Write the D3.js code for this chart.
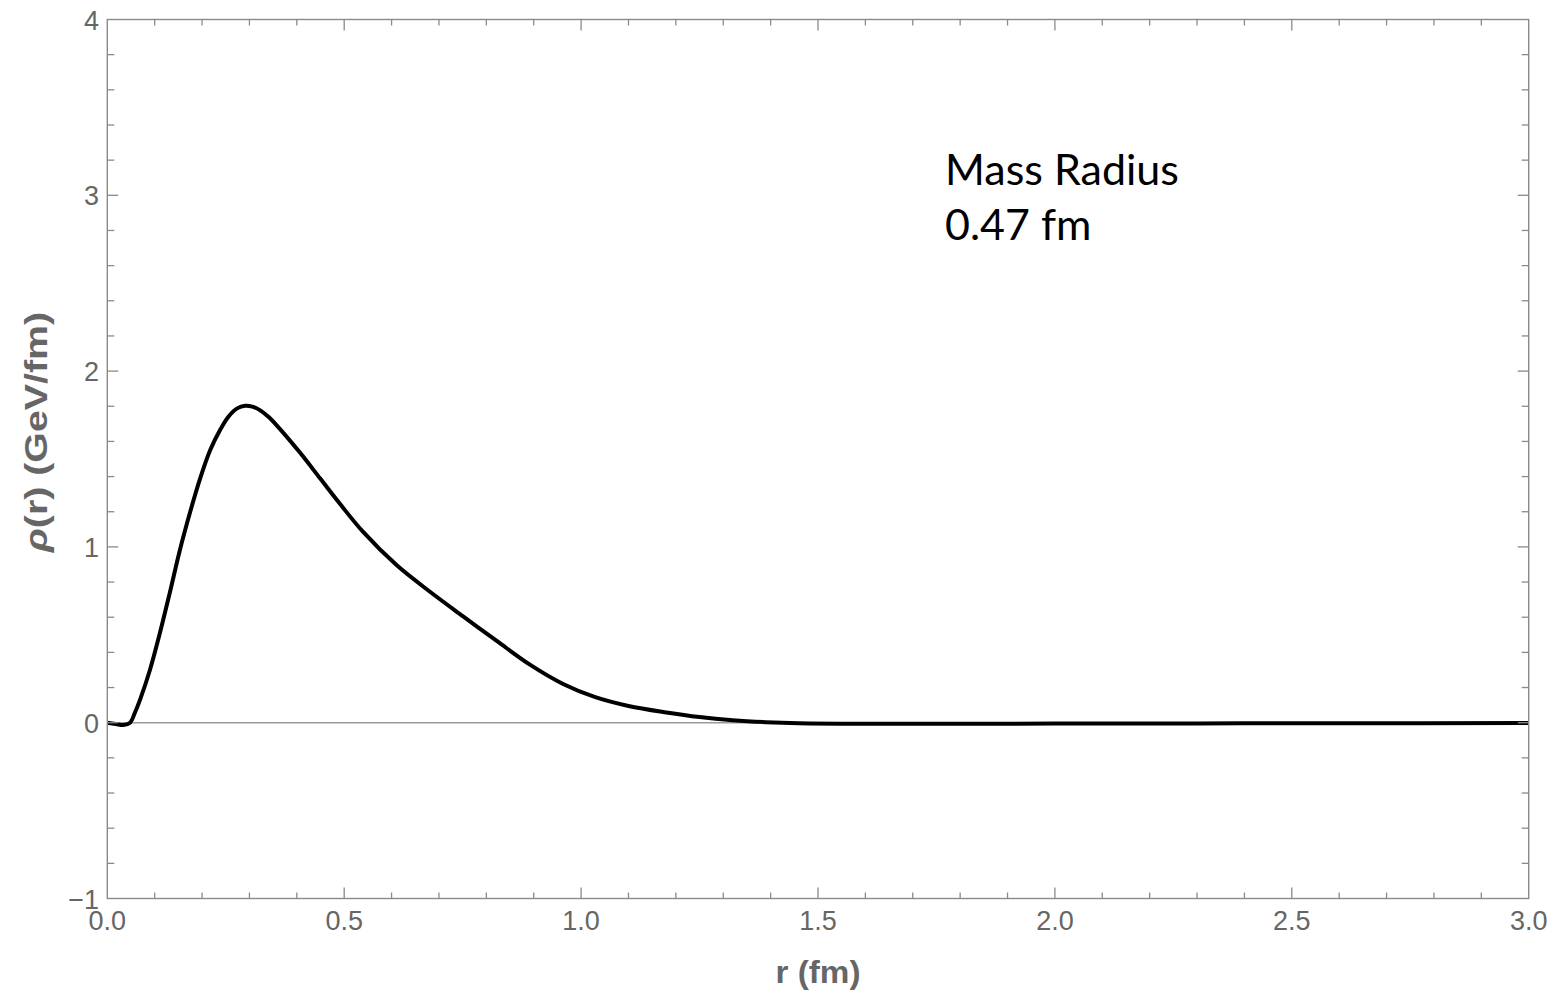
<!DOCTYPE html>
<meta charset="utf-8">
<style>
  body { margin: 0; background: #fff; }
  svg { display: block; }
  .tick-label { font-family: "Liberation Sans", Arial, sans-serif; font-size: 27px; fill: #666; }
  .axis-title { font-family: "Liberation Sans", Arial, sans-serif; font-size: 31px; font-weight: bold; fill: #666; }
  .note { font-family: Lato, "Open Sans", sans-serif; font-size: 43px; fill: #000; }
</style>
<svg id="chart" width="1555" height="994"></svg>
<script src="https://cdn.jsdelivr.net/npm/d3@7"></script>
<script>
// radius in fm
var rValues = [0.000, 0.018, 0.034, 0.048, 0.058, 0.069, 0.090, 0.111, 0.132, 0.153,
               0.175, 0.196, 0.217, 0.238, 0.256, 0.274, 0.291, 0.306, 0.322, 0.340,
               0.358, 0.407, 0.449, 0.491, 0.540, 0.611, 0.681, 0.751, 0.822, 0.892,
               0.962, 1.030, 1.100, 1.180, 1.250, 1.320, 1.390, 1.460, 1.600, 1.800,
               2.000, 2.300, 2.600, 3.000];
// rho(r) in GeV/fm
var rhoValues = [0.000, -0.007, -0.013, 0.000, 0.055, 0.130, 0.300, 0.510, 0.740, 0.980,
                 1.200, 1.390, 1.550, 1.665, 1.742, 1.788, 1.803, 1.798, 1.778, 1.740,
                 1.690, 1.535, 1.390, 1.245, 1.085, 0.895, 0.745, 0.605, 0.465, 0.330,
                 0.220, 0.145, 0.095, 0.058, 0.032, 0.014, 0.003, -0.003, -0.006, -0.006,
                 -0.005, -0.004, -0.003, -0.002];

var xMajor = [0, 0.5, 1, 1.5, 2, 2.5, 3];
var xTickLabels = ["0.0", "0.5", "1.0", "1.5", "2.0", "2.5", "3.0"];
var yMajor = [-1, 0, 1, 2, 3, 4];
var yTickLabels = ["\u22121", "0", "1", "2", "3", "4"];
var noteLines = ["Mass Radius", "0.47 fm"];

var plotLeft = 107.3, plotRight = 1528.7, plotTop = 19.5, plotBottom = 898.5;
var svg = d3.select("#chart");

var x = d3.scaleLinear().domain([0, 3]).range([plotLeft, plotRight]);
var y = d3.scaleLinear().domain([-1, 4]).range([plotBottom, plotTop]);

var frameColor = "#8a8a8a";

var xMinor = d3.range(0, 31).map(d => d / 10).filter(d => Math.abs(d * 2 - Math.round(d * 2)) > 1e-6);
var yMinor = d3.range(-5, 21).map(d => d / 5).filter(d => Math.abs(d - Math.round(d)) > 1e-6);

// zero line
svg.append("line")
    .attr("x1", x(0)).attr("x2", x(3))
    .attr("y1", y(0)).attr("y2", y(0))
    .attr("stroke", "#9a9a9a").attr("stroke-width", 1.5);

// curve
var pts = rValues.map((r, i) => [r, rhoValues[i]]);
var line = d3.line().x(d => x(d[0])).y(d => y(d[1])).curve(d3.curveCatmullRom.alpha(0.5));
svg.append("path")
    .datum(pts)
    .attr("d", line)
    .attr("fill", "none")
    .attr("stroke", "#000")
    .attr("stroke-width", 4)
    .attr("stroke-linejoin", "round");

// frame
svg.append("rect")
    .attr("x", plotLeft).attr("y", plotTop)
    .attr("width", plotRight - plotLeft).attr("height", plotBottom - plotTop)
    .attr("fill", "none").attr("stroke", frameColor).attr("stroke-width", 1.4);

// ticks on four sides
function xticks(vals, len) {
    var g = svg.append("g").attr("stroke", frameColor).attr("stroke-width", 1.3);
    vals.forEach(v => {
        g.append("line").attr("x1", x(v)).attr("x2", x(v)).attr("y1", plotBottom).attr("y2", plotBottom - len);
        g.append("line").attr("x1", x(v)).attr("x2", x(v)).attr("y1", plotTop).attr("y2", plotTop + len);
    });
}
function yticks(vals, len) {
    var g = svg.append("g").attr("stroke", frameColor).attr("stroke-width", 1.3);
    vals.forEach(v => {
        g.append("line").attr("y1", y(v)).attr("y2", y(v)).attr("x1", plotLeft).attr("x2", plotLeft + len);
        g.append("line").attr("y1", y(v)).attr("y2", y(v)).attr("x1", plotRight).attr("x2", plotRight - len);
    });
}
xticks(xMajor.slice(1, -1), 11);
xticks(xMinor, 6);
yticks(yMajor.slice(1, -1), 11);
yticks(yMinor, 7);

// tick labels
svg.selectAll(".xl").data(xMajor).enter().append("text")
    .attr("class", "tick-label xl")
    .attr("x", d => x(d)).attr("y", 930)
    .attr("text-anchor", "middle")
    .text((d, i) => xTickLabels[i]);

svg.selectAll(".yl").data(yMajor).enter().append("text")
    .attr("class", "tick-label yl")
    .attr("x", 99).attr("y", d => y(d) + 10)
    .attr("text-anchor", "end")
    .text((d, i) => yTickLabels[i]);

// axis titles
svg.append("text").attr("class", "axis-title")
    .attr("x", (plotLeft + plotRight) / 2).attr("y", 983)
    .attr("text-anchor", "middle")
    .attr("textLength", 85).attr("lengthAdjust", "spacingAndGlyphs")
    .text("r (fm)");

var yt = svg.append("text").attr("class", "axis-title")
    .attr("transform", "translate(47,432) rotate(-90)")
    .attr("text-anchor", "middle")
    .attr("textLength", 240).attr("lengthAdjust", "spacingAndGlyphs");
yt.append("tspan").attr("font-style", "italic").text("\u03c1");
yt.append("tspan").text("(r) (GeV/fm)");

// annotation
svg.selectAll(".note").data(noteLines).enter().append("text")
    .attr("class", "note")
    .attr("x", 945).attr("y", (d, i) => 185 + i * 55)
    .text(d => d);
</script>
